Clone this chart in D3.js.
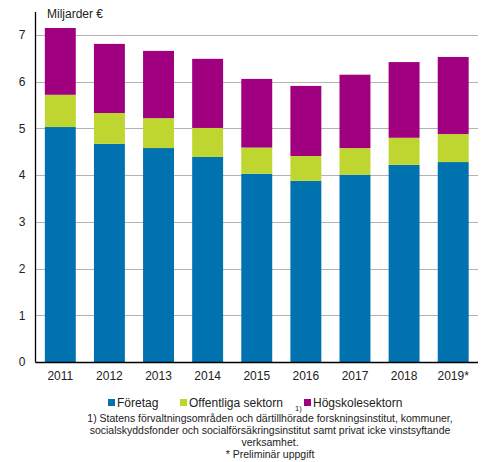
<!DOCTYPE html>
<html>
<head>
<meta charset="utf-8">
<script src="https://cdn.jsdelivr.net/npm/d3@7"></script>
<style>
  html, body { margin: 0; padding: 0; background: #fff; }
  svg { display: block; font-family: "Liberation Sans", Arial, sans-serif; }
</style>
</head>
<body>
<div id="chart"></div>
<script>
/* Stacked bars: FoU-utgifter per sektor, miljarder euro */
var years = ['2011', '2012', '2013', '2014', '2015', '2016', '2017', '2018', '2019*'];
var foretag    = [5.03, 4.67, 4.58, 4.39, 4.03, 3.88, 4.01, 4.22, 4.28];
var offentliga = [0.69, 0.66, 0.64, 0.62, 0.56, 0.53, 0.57, 0.58, 0.60];
var hogskole   = [1.43, 1.48, 1.44, 1.48, 1.47, 1.50, 1.57, 1.62, 1.65];
var seriesNames = ['Företag', 'Offentliga sektorn', 'Högskolesektorn'];
var yTicks = [0, 1, 2, 3, 4, 5, 6, 7];

(function drawChart() {
  var W = 491, H = 462;
  var m = { left: 35.5, right: 478, top: 12, bottom: 362 };
  var colors = ['#0072b0', '#bed62f', '#a0007f'];

  var svg = d3.select('#chart').append('svg')
    .attr('width', W).attr('height', H);

  var rows = years.map(function (y, i) {
    return { year: y, f: foretag[i], o: offentliga[i], h: hogskole[i] };
  });
  var stack = d3.stack().keys(['f', 'o', 'h'])(rows);

  var x = d3.scaleBand().domain(years)
    .range([m.left, m.right]).paddingInner(0.37).paddingOuter(0.19);
  var y = d3.scaleLinear().domain([0, 7]).range([m.bottom, 35]);

  /* ── gridlines ── */
  svg.append('g').selectAll('line')
    .data(yTicks.filter(function (t) { return t > 0; }))
    .join('line')
    .attr('x1', m.left).attr('x2', m.right)
    .attr('y1', function (d) { return Math.round(y(d)) + 0.5; })
    .attr('y2', function (d) { return Math.round(y(d)) + 0.5; })
    .attr('stroke', '#b3b3b3').attr('stroke-width', 1);

  /* ── bars ── */
  svg.append('g').selectAll('g')
    .data(stack).join('g')
    .attr('fill', function (d, i) { return colors[i]; })
    .selectAll('rect')
    .data(function (d) { return d; })
    .join('rect')
    .attr('x', function (d) { return x(d.data.year); })
    .attr('width', x.bandwidth())
    .attr('y', function (d) { return y(d[1]); })
    .attr('height', function (d) { return y(d[0]) - y(d[1]); });

  /* ── axes ── */
  var yAxis = svg.append('g')
    .attr('transform', 'translate(' + m.left + ',0)')
    .call(d3.axisLeft(y).tickValues(yTicks).tickSize(0).tickPadding(10).tickFormat(d3.format('d')));
  yAxis.select('.domain').remove();
  yAxis.selectAll('text').attr('font-size', 12).attr('fill', '#222')
    .attr('font-family', '"Liberation Sans", Arial, sans-serif');

  var xAxis = svg.append('g')
    .attr('transform', 'translate(0,' + m.bottom + ')')
    .call(d3.axisBottom(x).tickSize(0).tickPadding(9));
  xAxis.select('.domain').remove();
  xAxis.selectAll('text').attr('font-size', 12).attr('fill', '#222')
    .attr('font-family', '"Liberation Sans", Arial, sans-serif');

  svg.append('line')
    .attr('x1', m.left).attr('x2', m.left)
    .attr('y1', m.top).attr('y2', m.bottom + 0.5)
    .attr('stroke', '#000').attr('stroke-width', 1.3);
  svg.append('line')
    .attr('x1', m.left).attr('x2', m.right)
    .attr('y1', m.bottom + 0.5).attr('y2', m.bottom + 0.5)
    .attr('stroke', '#000').attr('stroke-width', 1.3);

  /* ── unit label ── */
  svg.append('text')
    .attr('x', 47).attr('y', 18)
    .attr('font-size', 12).attr('fill', '#222')
    .text('Miljarder €');

  /* ── legend ── */
  var legX = [108, 180, 304];
  var leg = svg.append('g').selectAll('g')
    .data(seriesNames).join('g')
    .attr('transform', function (d, i) { return 'translate(' + legX[i] + ',399)'; });
  leg.append('rect')
    .attr('width', 7).attr('height', 7)
    .attr('fill', function (d, i) { return colors[i]; });
  leg.append('text')
    .attr('x', 9).attr('y', 8)
    .attr('font-size', 12).attr('fill', '#222')
    .text(function (d) { return d; });
  svg.append('text')
    .attr('x', 295).attr('y', 411)
    .attr('font-size', 7.5).attr('fill', '#222')
    .text('1)');

  /* ── footnotes ── */
  var notes = [
    '1)  Statens förvaltningsområden och därtillhörade forskningsinstitut, kommuner,',
    'socialskyddsfonder och socialförsäkringsinstitut samt privat icke vinstsyftande',
    'verksamhet.',
    '* Preliminär  uppgift'
  ];
  svg.append('g').selectAll('text')
    .data(notes).join('text')
    .attr('x', 270)
    .attr('y', function (d, i) { return 422 + i * 12; })
    .attr('text-anchor', 'middle')
    .attr('font-size', 10.5).attr('fill', '#222')
    .text(function (d) { return d; });
}());
</script>
</body>
</html>
